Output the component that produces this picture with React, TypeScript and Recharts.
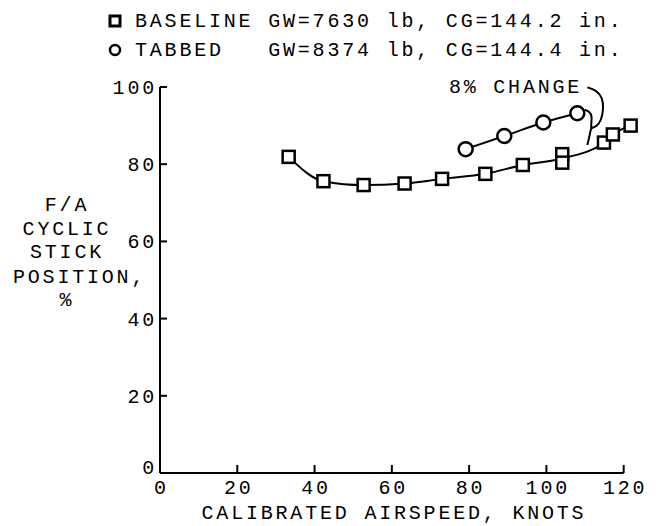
import { ComposedChart, Line, Scatter, XAxis, YAxis, ReferenceLine, ReferenceDot } from "recharts";

// calibrated airspeed (knots) vs F/A cyclic stick position (%)
const baselineSpeed = [33.3, 42.3, 52.7, 63.3, 73.0, 84.2, 93.9, 104.1, 104.1, 114.9, 117.2, 121.8];
const baselineStick = [81.9, 75.6, 74.6, 75.0, 76.2, 77.5, 79.8, 82.6, 80.4, 85.6, 87.7, 90.0];
const tabbedSpeed = [79.1, 89.1, 99.2, 108.0];
const tabbedStick = [83.9, 87.3, 90.8, 93.2];

// faired curve through the baseline points
const fairSpeed = [33.3, 42.3, 52.7, 63.3, 73.0, 84.2, 93.9, 104.1, 114.9, 117.2, 121.8];
const fairStick = [81.9, 75.6, 74.6, 75.0, 76.2, 77.5, 79.8, 81.5, 85.6, 87.7, 90.0];

// "8% CHANGE" leader and brace
const hookSpeed = [110.6, 113.0, 114.5, 114.8, 114.2, 113.0, 111.6];
const hookStick = [99.9, 99.1, 97.3, 94.5, 91.3, 89.8, 89.3];
const braceTopSpeed = [109.9, 111.3, 111.8, 111.6, 111.6];
const braceTopStick = [94.1, 93.6, 92.3, 90.8, 89.3];
const braceBotSpeed = [111.6, 111.3, 111.0, 110.6];
const braceBotStick = [89.3, 88.2, 86.6, 85.0];

const xTicks = [0, 20, 40, 60, 80, 100, 120];
const yTicks = [0, 20, 40, 60, 80, 100];
const yLabelLines = ["F/A", "CYCLIC", "STICK", "POSITION,", "%"];

const pts = (xs: number[], ys: number[]) => xs.map((x, i) => ({ x, y: ys[i] }));

const FONT = {
  fontFamily: '"Liberation Mono", "DejaVu Sans Mono", monospace',
  fontSize: 20,
  letterSpacing: 2.8,
  fill: "#000",
};

const XTick = (p: any) => {
  const { x, y, payload } = p;
  return (
    <g>
      {payload.value > 0 && <line x1={x} x2={x} y1={y} y2={y - 8} stroke="#000" strokeWidth={2} />}
      <text x={x + 1.4} y={y + 21} textAnchor="middle" {...FONT}>{payload.value}</text>
    </g>
  );
};

const YTick = (p: any) => {
  const { x, y, payload } = p;
  return (
    <g>
      {payload.value > 0 && <line x1={x} x2={x + 7} y1={y} y2={y} stroke="#000" strokeWidth={2} />}
      <text x={x - 3} y={y + (payload.value === 0 ? 1 : 7)} textAnchor="end" {...FONT}>{payload.value}</text>
    </g>
  );
};

const Square = (p: any) => (
  <rect x={p.cx - 6} y={p.cy - 6} width={12} height={12} fill="#fff" stroke="#000" strokeWidth={2.5} />
);
const Ring = (p: any) => <circle cx={p.cx} cy={p.cy} r={7} fill="#fff" stroke="#000" strokeWidth={2.5} />;

const lineProps = { type: "monotone" as const, dataKey: "y", stroke: "#000", strokeWidth: 2, dot: false, isAnimationActive: false, legendType: "none" as const };
const markProps = { type: "basis" as const, dataKey: "y", stroke: "#000", strokeWidth: 2, dot: false, isAnimationActive: false, legendType: "none" as const };

export default function App() {
  return (
    <div style={{ position: "absolute", left: 0, top: 0, width: 660, height: 526, background: "#fff" }}>
      <ComposedChart width={660} height={526} margin={{ top: 87, right: 17, bottom: 0, left: 0 }}>
        <XAxis
          type="number"
          dataKey="x"
          domain={[0, 125]}
          ticks={xTicks}
          interval={0}
          axisLine={false}
          tickLine={false}
          tickSize={0}
          tickMargin={0}
          height={53}
          tick={<XTick />}
          label={{
            content: () => (
              <text x={394} y={519} textAnchor="middle" {...FONT}>CALIBRATED AIRSPEED, KNOTS</text>
            ),
          }}
        />
        <YAxis
          type="number"
          dataKey="y"
          domain={[0, 100]}
          ticks={yTicks}
          interval={0}
          width={160}
          axisLine={{ stroke: "#000", strokeWidth: 2 }}
          tickLine={false}
          tickSize={0}
          tickMargin={0}
          tick={<YTick />}
          label={{
            content: () => (
              <g>
                {yLabelLines.map((t, i) =>
                  t === "POSITION," ? (
                    <text key={t} x={13} y={283} {...FONT}>{t}</text>
                  ) : (
                    <text key={t} x={67} y={211 + i * 23.7} textAnchor="middle" {...FONT}>{t}</text>
                  )
                )}
              </g>
            ),
          }}
        />
        <ReferenceLine segment={[{ x: 0, y: 0 }, { x: 120, y: 0 }]} stroke="#000" strokeWidth={2} />
        <Line data={pts(fairSpeed, fairStick)} {...lineProps} />
        <Line data={pts(tabbedSpeed, tabbedStick)} {...lineProps} />
        <Line data={pts(hookSpeed, hookStick)} {...markProps} />
        <Line data={pts(braceTopSpeed, braceTopStick)} {...markProps} />
        <Line data={pts(braceBotSpeed, braceBotStick)} {...markProps} />
        <Scatter data={pts(baselineSpeed, baselineStick)} dataKey="y" shape={<Square />} isAnimationActive={false} />
        <Scatter data={pts(tabbedSpeed, tabbedStick)} dataKey="y" shape={<Ring />} isAnimationActive={false} />
        <ReferenceDot
          x={109.5}
          y={98.4}
          r={1}
          fill="none"
          stroke="none"
          label={{
            content: (lp: any) => {
              const vb = lp.viewBox || {};
              return (
                <text x={vb.x} y={(vb.y ?? 0) + 1} textAnchor="end" {...FONT}>8% CHANGE</text>
              );
            },
          }}
        />
      </ComposedChart>
      <svg width={660} height={70} style={{ position: "absolute", left: 0, top: 0 }}>
        <rect x={110} y={16} width={10} height={10} fill="#fff" stroke="#000" strokeWidth={3} />
        <text x={135} y={27} xmlSpace="preserve" style={{ whiteSpace: "pre" }} {...FONT}>BASELINE GW=7630 lb, CG=144.2 in.</text>
        <circle cx={115} cy={50} r={5} fill="#fff" stroke="#000" strokeWidth={2.5} />
        <text x={135} y={56} xmlSpace="preserve" style={{ whiteSpace: "pre" }} {...FONT}>TABBED   GW=8374 lb, CG=144.4 in.</text>
      </svg>
    </div>
  );
}
